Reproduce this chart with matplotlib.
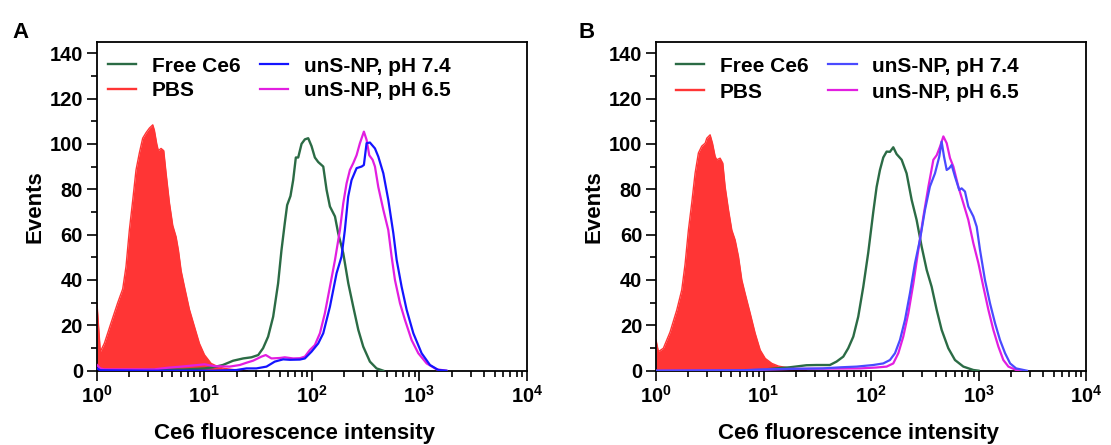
import matplotlib

matplotlib.use("Agg")
import matplotlib.pyplot as plt
import numpy as np
from matplotlib.ticker import MultipleLocator, NullFormatter

plt.rcParams["font.family"] = ["Liberation Sans", "DejaVu Sans"]
plt.rcParams["font.weight"] = "bold"
plt.rcParams["mathtext.fontset"] = "custom"
plt.rcParams["mathtext.rm"] = "Liberation Sans:bold"
plt.rcParams["mathtext.bf"] = "Liberation Sans:bold"

# curves: x as log10(Ce6 intensity), y as events
a_pbs_log = [0, 0.031, 0.068, 0.130, 0.193, 0.239, 0.270, 0.301, 0.332, 0.363, 0.394, 0.425,
             0.457, 0.488, 0.519, 0.534, 0.556, 0.571, 0.596, 0.621, 0.643, 0.674, 0.705, 0.736,
             0.758, 0.783, 0.814, 0.860, 0.907, 0.953, 1.0, 1.062, 1.124, 1.186, 1.3, 1.4]
a_pbs_events = [29.7, 8.4, 12, 21, 30, 36, 46, 62, 75, 88.5, 96, 102.5,
                105, 107, 108.4, 106, 100, 97, 98, 97, 87, 74, 64, 59,
                53, 44, 37, 27, 19.4, 12, 7, 3.2, 1.8, 1, 0.3, 0]

a_free_log = [0.3, 0.5, 0.8, 1.0, 1.08, 1.17, 1.267, 1.36, 1.437, 1.5, 1.545, 1.592, 1.639, 1.685,
              1.716, 1.747, 1.769, 1.8, 1.825, 1.85, 1.872, 1.903, 1.934, 1.965, 1.996, 2.027,
              2.058, 2.105, 2.136, 2.167, 2.214, 2.244, 2.291, 2.338, 2.384, 2.431, 2.477, 2.539,
              2.601, 2.663]
a_free_events = [0, 0.5, 0.5, 1, 1.5, 2.5, 4.4, 5.4, 5.9, 6.9, 9.9, 15, 23.8, 38.5,
                 53, 65, 73, 77, 84, 94, 94, 100, 102, 102.5, 99, 94,
                 92, 90, 79.7, 72.4, 68, 60.6, 51.8, 38.5, 28.2, 18, 10.6, 4,
                 1, 0]

a_ph65_log = [0, 0.03, 0.068, 0.534, 0.658, 0.783, 0.938, 1.0, 1.093, 1.235, 1.328, 1.39, 1.452,
              1.53, 1.57, 1.623, 1.701, 1.747, 1.825, 1.887, 1.934, 1.98, 2.027, 2.074, 2.12,
              2.167, 2.214, 2.26, 2.291, 2.322, 2.353, 2.384, 2.415, 2.446, 2.483, 2.508, 2.533,
              2.564, 2.586, 2.617, 2.664, 2.71, 2.741, 2.772, 2.819, 2.865, 2.927, 2.989, 3.067,
              3.16, 3.25]
a_ph65_events = [2.5, 1, 0.6, 0.6, 1.3, 1.8, 2.5, 2.8, 2, 1.8, 2.5, 3.5, 4.4,
                 6.2, 6.9, 5.4, 5.6, 5.9, 5.4, 5.5, 6.2, 9.1, 11.3, 16.5, 25.3,
                 37, 48.8, 62, 73.8, 82.6, 88.5, 91.5, 95, 100.3, 105.4, 101.8, 95,
                 93, 90, 81, 70.9, 62, 50.3, 40, 29.7, 22.4, 13.5, 7.7, 3.2,
                 0.6, 0]

a_ph74_log = [0, 0.03, 0.5, 1.08, 1.298, 1.39, 1.483, 1.577, 1.654, 1.732, 1.794, 1.887, 1.934,
              1.996, 2.058, 2.105, 2.167, 2.229, 2.275, 2.306, 2.337, 2.368, 2.415, 2.462, 2.483,
              2.508, 2.539, 2.586, 2.617, 2.664, 2.71, 2.757, 2.788, 2.834, 2.881, 2.943, 3.02,
              3.098, 3.176, 3.25]
a_ph74_events = [1, 0.2, 0, 0, 0.3, 1, 1, 1.8, 4, 5, 4.8, 4.9, 5.4,
                 8.4, 12, 16.5, 28.2, 43, 50.3, 62, 76.8, 84, 89.3, 90, 90.7,
                 100.3, 100.6, 98, 94.4, 87, 75.3, 60.6, 48.8, 37, 26.8, 16.5, 7.7,
                 2.5, 0.3, 0]

b_pbs_log = [0, 0.022, 0.068, 0.130, 0.193, 0.239, 0.270, 0.301, 0.332, 0.363, 0.394, 0.425,
             0.457, 0.472, 0.503, 0.525, 0.550, 0.565, 0.596, 0.621, 0.643, 0.674, 0.705, 0.736,
             0.767, 0.798, 0.829, 0.876, 0.922, 0.969, 1.016, 1.078, 1.140, 1.202, 1.3, 1.4]
b_pbs_events = [13.5, 8.4, 9.9, 17, 26.8, 35.6, 47, 62, 74, 87, 96, 99,
                100.3, 102.5, 104, 100.3, 94.4, 93, 93.7, 91.5, 81, 70.9, 62, 57.6,
                50.3, 40, 34, 25.3, 16.5, 9.1, 5.4, 3.2, 2, 1.5, 0.5, 0]

b_free_log = [0.8, 1.0, 1.09, 1.245, 1.4, 1.493, 1.617, 1.679, 1.742, 1.788, 1.835, 1.881,
              1.928, 1.974, 2.021, 2.052, 2.083, 2.114, 2.145, 2.176, 2.207, 2.238, 2.285,
              2.331, 2.378, 2.424, 2.471, 2.518, 2.564, 2.611, 2.657, 2.719, 2.781, 2.859,
              2.952, 3.0]
b_free_events = [0, 0.5, 0.9, 1.5, 2.4, 2.5, 2.5, 4, 6.2, 9.9, 15, 23.8,
                 37, 52, 70, 81, 88.5, 94, 96.6, 96.5, 98.5, 95.5, 93,
                 87, 75.3, 66.5, 54.7, 44.4, 37, 26.8, 18, 9.9, 4.7, 1.8,
                 0.3, 0]

b_ph74_log = [0, 0.8, 1.0, 1.245, 1.55, 1.72, 1.866, 2.02, 2.114, 2.176, 2.223, 2.269, 2.316,
              2.362, 2.409, 2.455, 2.502, 2.548, 2.595, 2.635, 2.657, 2.679, 2.704, 2.728, 2.75,
              2.781, 2.821, 2.843, 2.874, 2.905, 2.952, 2.983, 3.014, 3.06, 3.107, 3.154, 3.2,
              3.247, 3.294, 3.35, 3.45]
b_ph74_events = [0, 0.2, 0.5, 0.8, 1, 1.5, 1.8, 2.5, 3.2, 4.7, 7.7, 13.5, 22.4,
                 34.1, 47.4, 57.7, 70.9, 81.2, 87, 94.4, 101, 94.4, 88.5, 89.3, 90.7,
                 85.6, 79.7, 80.4, 79, 72.4, 68, 63.5, 53.2, 40, 29.7, 20.9, 13.5,
                 7.7, 3.2, 1, 0]

b_ph65_log = [0, 0.8, 1.0, 1.3, 1.6, 1.897, 2.05, 2.145, 2.207, 2.254, 2.3, 2.347, 2.394, 2.44,
              2.487, 2.534, 2.58, 2.611, 2.642, 2.673, 2.704, 2.735, 2.766, 2.812, 2.859, 2.905,
              2.952, 2.999, 3.045, 3.092, 3.138, 3.185, 3.231, 3.278, 3.35, 3.4]
b_ph65_events = [0, 0.2, 0.5, 0.8, 0.9, 1, 1.4, 1.8, 3.2, 7.7, 15, 25.3, 38.5, 53.2,
                 67.9, 81.2, 93, 95, 98.8, 103.3, 100.3, 93.7, 90, 81.2, 73.8, 66.5,
                 56.2, 47.4, 37, 26.8, 18, 10.6, 4.7, 1.8, 0.3, 0]

labels = ["Free Ce6", "PBS", "unS-NP, pH 7.4", "unS-NP, pH 6.5"]
x_ticks = [1, 10, 100, 1000, 10000]
x_tick_labels = [r"$\mathbf{10^{0}}$", r"$\mathbf{10^{1}}$", r"$\mathbf{10^{2}}$",
                 r"$\mathbf{10^{3}}$", r"$\mathbf{10^{4}}$"]
y_ticks = [0, 20, 40, 60, 80, 100, 120, 140]

GREEN = "#2b6b45"
RED = "#ff3535"
MAGENTA = "#e21ee0"


def draw_panel(ax, pbs, free, ph74, ph65, blue, legend_x, spacing, xlabel_x):
    pbs_x = 10 ** np.array(pbs[0])
    ax.fill_between(pbs_x, pbs[1], 0, color=RED, lw=0, zorder=1)
    ax.plot(pbs_x, pbs[1], color=RED, lw=1.0, zorder=1)
    h_free, = ax.plot(10 ** np.array(free[0]), free[1], color=GREEN, lw=1.7, zorder=3)
    h_65, = ax.plot(10 ** np.array(ph65[0]), ph65[1], color=MAGENTA, lw=1.6, zorder=3)
    h_74, = ax.plot(10 ** np.array(ph74[0]), ph74[1], color=blue, lw=1.6, zorder=4)
    h_pbs = plt.Line2D([], [], color=RED, lw=1.7)

    ax.set_xscale("log")
    ax.set_xlim(1, 1e4)
    ax.set_ylim(0, 145)
    ax.set_xticks(x_ticks)
    ax.set_xticklabels(x_tick_labels)
    ax.xaxis.set_minor_formatter(NullFormatter())
    ax.set_yticks(y_ticks)
    ax.yaxis.set_minor_locator(MultipleLocator(10))
    ax.tick_params(which="major", direction="out", length=7.5, width=1.2, labelsize=14.5, pad=2.5)
    ax.tick_params(which="minor", direction="out", length=4.5, width=1.2)
    for spine in ax.spines.values():
        spine.set_linewidth(1.3)

    ax.set_xlabel("Ce6 fluorescence intensity", fontsize=16, fontweight="bold")
    ax.set_ylabel("Events", fontsize=16, fontweight="bold")
    ax.xaxis.set_label_coords(xlabel_x, -0.16)
    ax.yaxis.set_label_coords(-0.12, 0.5)

    ax.legend([h_free, h_pbs, h_74, h_65], labels, ncol=2, frameon=False,
              loc="upper left", bbox_to_anchor=(legend_x, 0.955), borderpad=0,
              borderaxespad=0, handlelength=1.35, handletextpad=0.75,
              columnspacing=0.95, labelspacing=spacing,
              prop={"size": 15, "weight": "bold"})


def main() -> None:
    fig = plt.figure(figsize=(11.11, 4.45), dpi=100)
    ax_a = fig.add_axes([0.0873, 0.167, 0.387, 0.739])
    ax_b = fig.add_axes([0.5905, 0.167, 0.387, 0.739])

    draw_panel(ax_a, (a_pbs_log, a_pbs_events), (a_free_log, a_free_events),
               (a_ph74_log, a_ph74_events), (a_ph65_log, a_ph65_events),
               "#1414ff", 0.026, 0.27, 0.46)
    draw_panel(ax_b, (b_pbs_log, b_pbs_events), (b_free_log, b_free_events),
               (b_ph74_log, b_ph74_events), (b_ph65_log, b_ph65_events),
               "#4a4aff", 0.047, 0.34, 0.47)

    fig.text(12 / 1111, 1 - 22 / 445, "A", ha="left", va="top", fontsize=16, fontweight="bold")
    fig.text(578 / 1111, 1 - 22 / 445, "B", ha="left", va="top", fontsize=16, fontweight="bold")

    fig.savefig("out.png", dpi=100)
    plt.close(fig)


if __name__ == "__main__":
    main()
